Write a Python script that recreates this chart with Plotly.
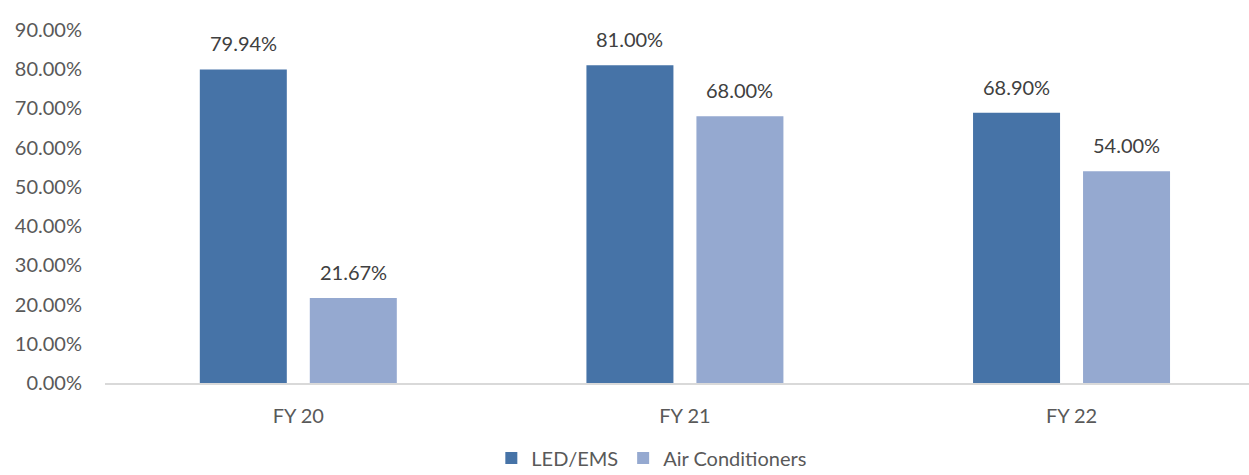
import plotly.graph_objects as go

categories = ["FY 20", "FY 21", "FY 22"]
led_ems = [0.7994, 0.81, 0.689]
air_cond = [0.2167, 0.68, 0.54]
series_names = ["LED/EMS", "Air Conditioners"]
tick_vals = [0, 0.1, 0.2, 0.3, 0.4, 0.5, 0.6, 0.7, 0.8, 0.9]

FONT = "Lato, Carlito, Calibri, sans-serif"
c1 = "#4673A7"
c2 = "#95A9D0"

fig = go.Figure()
fig.add_bar(x=categories, y=led_ems, name=series_names[0], marker=dict(color=c1, line=dict(width=0)))
fig.add_bar(x=categories, y=air_cond, name=series_names[1], marker=dict(color=c2, line=dict(width=0)))

for vals, shift in ((led_ems, -55), (air_cond, 55)):
    for c, v in zip(categories, vals):
        fig.add_annotation(x=c, y=v, xref="x", yref="y", text=f"{v*100:.2f}%",
                           showarrow=False, xshift=shift, yshift=26,
                           font=dict(family=FONT, size=20, color="#404040"))

fig.update_layout(
    width=1249, height=475,
    margin=dict(l=105, r=0, t=30, b=92, autoexpand=False),
    paper_bgcolor="white", plot_bgcolor="white",
    barmode="group", bargap=0.431, bargroupgap=0.209,
    font=dict(family=FONT, size=20, color="#595959"),
    showlegend=True,
    legend=dict(orientation="h", x=0.478, xanchor="center", yref="container", y=0.036,
                yanchor="middle", font=dict(family=FONT, size=20, color="#595959"),
                itemwidth=30, traceorder="normal"),
)
fig.update_xaxes(range=[-0.5, 2.459], showline=True, linecolor="#D9D9D9", linewidth=2,
                 ticks="", showgrid=False, ticklabelstandoff=14,
                 tickfont=dict(size=20, color="#595959"))
fig.update_yaxes(range=[0, 0.9], tickvals=tick_vals, tickformat=".2%", showgrid=False,
                 zeroline=False, showline=False, ticks="", ticklabelstandoff=22,
                 tickfont=dict(size=20, color="#595959"))

fig.write_html("out.html")
